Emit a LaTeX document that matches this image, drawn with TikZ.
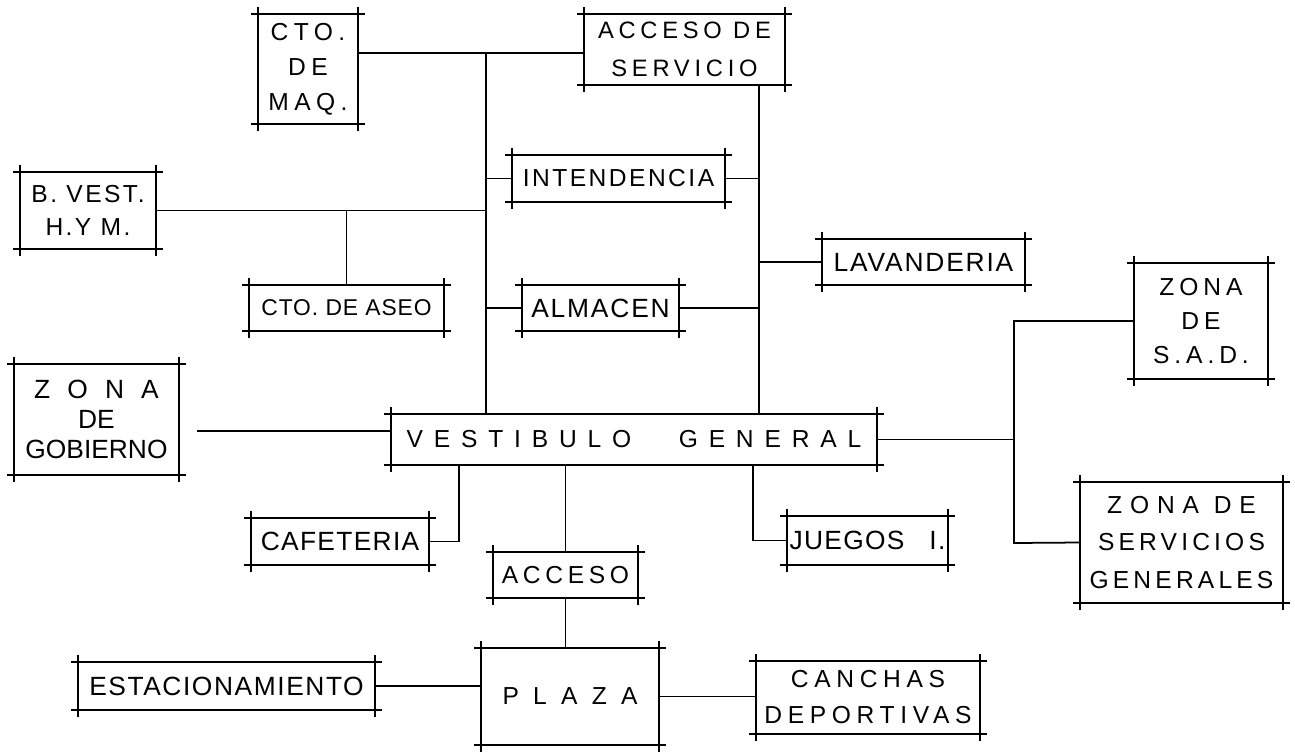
\documentclass[tikz,border=0pt]{standalone}
\usepackage{fontspec}
\setmainfont{Liberation Sans}
\usepackage{tikz}
\usetikzlibrary{calc}
\newcommand{\letra}[3]{\fontsize{#1}{#2}\selectfont\addfontfeature{LetterSpace=#3}}
\tikzset{
  marco/.style={inner sep=0pt, align=center,
    append after command={
      ([xshift=-4pt]\tikzlastnode.north west) edge ([xshift=4pt]\tikzlastnode.north east)
      ([xshift=-4pt]\tikzlastnode.south west) edge ([xshift=4pt]\tikzlastnode.south east)
      ([yshift=4pt]\tikzlastnode.north west) edge ([yshift=-4pt]\tikzlastnode.south west)
      ([yshift=4pt]\tikzlastnode.north east) edge ([yshift=-4pt]\tikzlastnode.south east)
    }},
  caja/.style 2 args={marco, minimum width=#1*0.02cm, minimum height=#2*0.02cm},
}

\begin{document}
\begin{tikzpicture}[x=0.02cm, y=-0.02cm, line width=1pt]
\useasboundingbox (0,0) rectangle (1295,751);

\node[caja={98}{108}, font=\letra{14}{20}{22}] (maq) at (308,69) {CTO.\\DE\\MAQ.};
\node[caja={199}{69}, font=\letra{13.5}{22}{20}] (accserv) at (684.5,49.5) {ACCESO DE\\SERVICIO};
\node[caja={211}{45}, font=\letra{14}{17}{10}] (intend) at (618.5,178.5) {INTENDENCIA};
\node[caja={134}{75}, font=\letra{14}{19}{10}] (bvest) at (88,210.5) {B. VEST.\\H.Y M.};
\node[caja={193}{44}, font=\letra{13}{16}{4}] (aseo) at (346.5,308) {CTO. DE ASEO};
\node[caja={155}{44}, font=\letra{15}{18}{7}] (almacen) at (600.5,308) {ALMACEN};
\node[caja={201}{44}, font=\letra{15}{18}{7}] (lavand) at (923.5,262) {LAVANDERIA};
\node[caja={484}{49}, font=\letra{14}{17}{44}] (vest) at (634,439.5) {VESTIBULO\hspace{0.95cm}GENERAL};
\node[caja={163}{109}, font=\letra{15}{17}{0}] (gob) at (96.5,419.5)
  {{\addfontfeature{LetterSpace=65}ZONA}\\DE\\GOBIERNO};
\node[caja={132}{114}, font=\letra{14}{19.5}{20}] (sad) at (1201,321) {ZONA\\DE\\S.A.D.};
\node[caja={201}{119}, font=\letra{14}{21.5}{17}] (servg) at (1181.5,542.5)
  {{\addfontfeature{LetterSpace=32}ZONA DE}\\SERVICIOS\\GENERALES};
\node[caja={176}{45}, font=\letra{15}{18}{5}] (cafe) at (340,541.5) {CAFETERIA};
\node[caja={143}{44}, font=\letra{14}{17}{19}] (acceso) at (565.5,575) {ACCESO};
\node[caja={176}{95}, font=\letra{14}{17}{58}] (plaza) at (570,696.5) {PLAZA};
\node[caja={295}{46}, font=\letra{15}{18}{6}] (estac) at (226.5,686) {ESTACIONAMIENTO};
\node[caja={222}{71}, font=\letra{14}{20.5}{23}] (canchas) at (868,697.5) {CANCHAS\\DEPORTIVAS};
\node[caja={159}{47}, font=\letra{15}{18}{5}] (juegos) at (867.5,540.5) {JUEGOS\hspace{0.5cm}I.};

\coordinate (t1) at (486,53);
\coordinate (t2) at (759,84);
\coordinate (t3) at (1014,321);
\coordinate (t4) at (1014,543);
\coordinate (g) at (197,431);
\coordinate (cb) at (459,464);
\coordinate (jb) at (753,464);

\draw (maq.east |- t1) -- (accserv.west |- t1);
\draw (t1) -- (t1 |- vest.north);
\draw (t2) -- (t2 |- vest.north);
\draw (t1 |- intend.west) -- (intend.west);
\draw (intend.east) -- (t2 |- intend.east);
\draw (bvest.east) -- (t1 |- bvest.east);
\draw (aseo.north |- bvest.east) -- (aseo.north);
\draw (t1 |- almacen.west) -- (almacen.west);
\draw (almacen.east) -- (t2 |- almacen.east);
\draw (t2 |- lavand.west) -- (lavand.west);
\draw (g) -- (g -| vest.west);
\draw (vest.east) -- (t3 |- vest.east);
\draw (sad.west) -- (t3) -- (t4) -- (servg.west);
\draw (cafe.east) -| (cb);
\draw (acceso.north |- vest.south) -- (acceso.north);
\draw (acceso.south) -- (acceso.south |- plaza.north);
\draw (juegos.west) -| (jb);
\draw (estac.east) -- (estac.east -| plaza.west);
\draw (plaza.east) -- (plaza.east -| canchas.west);
\end{tikzpicture}
\end{document}
